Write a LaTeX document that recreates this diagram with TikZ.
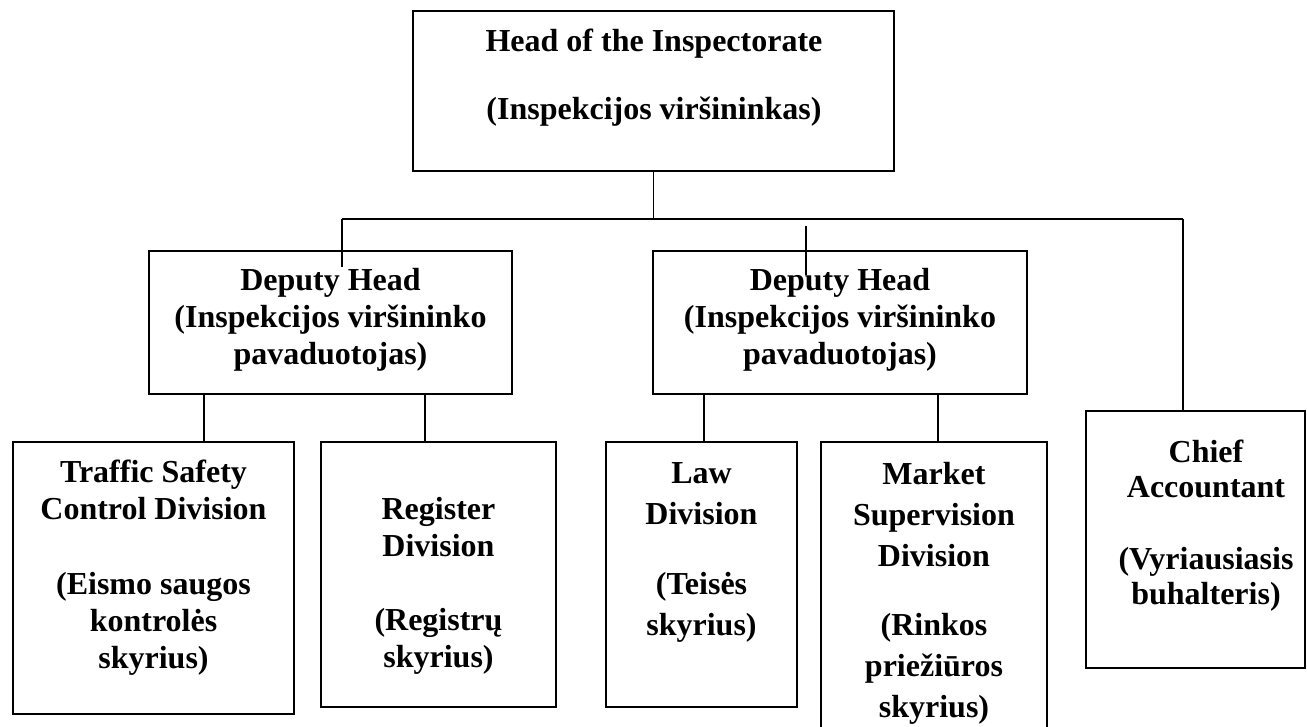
\documentclass[tikz,border=0pt]{standalone}
\usepackage{fontspec}
\setmainfont{Liberation Serif}
\usetikzlibrary{fit}
\tikzset{
  box/.style={draw, line width=1.3pt, inner sep=0pt},
  lbl/.style={font=\bfseries\fontsize{24}{27.75}\selectfont, align=center, inner sep=0pt, anchor=north},
  link/.style={line width=1.3pt}
}
\begin{document}
\begin{tikzpicture}[x=0.75pt, y=-0.75pt]
  \useasboundingbox (0,0) rectangle (1307,727);
  \clip (0,0) rectangle (1307,727);

  % head
  \node[box, fit={(413,11) (894,171)}] (head) {};
  \node[lbl, font=\bfseries\fontsize{24}{25.5}\selectfont] (headtxt) at (654,29)
    {Head of the Inspectorate\\[25.5pt](Inspekcijos viršininkas)};

  % deputies
  \node[box, fit={(149,251) (512,394)}] (dep1) {};
  \node[lbl] (dep1txt) at (330.5,268)
    {Deputy Head\\(Inspekcijos viršininko\\pavaduotojas)};
  \node[box, fit={(653,251) (1027,394)}] (dep2) {};
  \node[lbl] (dep2txt) at (840,268)
    {Deputy Head\\(Inspekcijos viršininko\\pavaduotojas)};

  % divisions
  \node[box, fit={(13,442) (294,714)}] (tsc) {};
  \node[lbl] (tsctxt) at (153.5,460)
    {Traffic Safety\\Control Division\\[28pt](Eismo saugos\\kontrolės\\skyrius)};
  \node[box, fit={(321,442) (556,707)}] (reg) {};
  \node[lbl] (regtxt) at (438.5,497)
    {Register\\Division\\[28pt](Registrų\\skyrius)};
  \node[box, fit={(606,442) (797,707)}] (law) {};
  \node[lbl, font=\bfseries\fontsize{24}{30.75}\selectfont] (lawtxt) at (701.5,462)
    {Law\\Division\\[22pt](Teisės\\skyrius)};
  \node[box, fit={(821,442) (1047,780)}] (mkt) {};
  \node[lbl, font=\bfseries\fontsize{24}{30.75}\selectfont] (mkttxt) at (934,462)
    {Market\\Supervision\\Division\\[21pt](Rinkos\\priežiūros\\skyrius)};

  % chief accountant
  \node[box, fit={(1086,411) (1305,668)}] (chief) {};
  \node[lbl, font=\bfseries\fontsize{24}{26.25}\selectfont] (chieftxt) at (1206,440)
    {Chief\\Accountant\\[27.75pt](Vyriausiasis\\buhalteris)};

  % bus
  \coordinate (busL) at (342,219);
  \coordinate (busR) at (1183,219);
  \coordinate (dep1in) at (342,267);
  \coordinate (stubA) at (806,226);
  \coordinate (stubB) at (806,275);
  \draw[link] (head.south) to (head.south |- busL);
  \draw[link] (busL) to (busR);
  \draw[link] (busL) to (dep1in);
  \draw[link] (stubA) to (stubB);
  \draw[link] (busR) to (busR |- chief.north);

  % deputies to divisions
  \foreach \px/\up/\dn in {204/dep1/tsc, 425/dep1/reg, 704/dep2/law, 938/dep2/mkt} {
    \coordinate (c) at (\px,0);
    \draw[link] (\up.south -| c) to (\dn.north -| c);
  }
\end{tikzpicture}
\end{document}
